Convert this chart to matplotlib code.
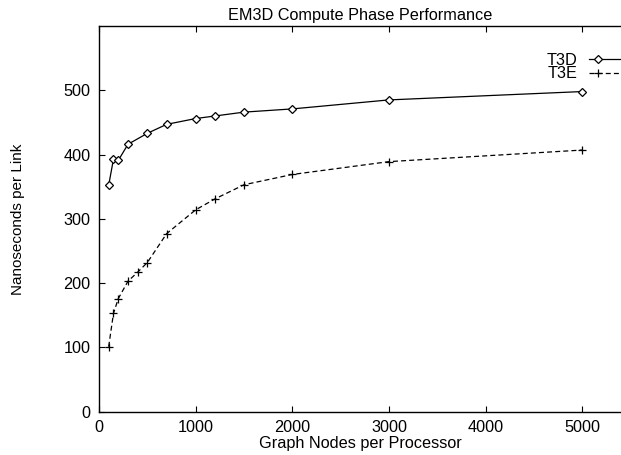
import matplotlib
matplotlib.use("Agg")
import matplotlib.pyplot as plt
from matplotlib.legend_handler import HandlerLine2D
from matplotlib.lines import Line2D

# Data
t3d_nodes = [100, 150, 200, 300, 500, 700, 1000, 1200, 1500, 2000, 3000, 5000]
t3d_ns = [352, 393, 391, 416, 433, 447, 456, 460, 466, 471, 485, 498]

t3e_nodes = [100, 150, 200, 300, 400, 500, 700, 1000, 1200, 1500, 2000, 3000, 5000]
t3e_ns = [101, 153, 176, 203, 217, 232, 277, 314, 331, 353, 369, 389, 407]

plt.rcParams['font.family'] = ['Liberation Sans', 'DejaVu Sans']
plt.rcParams['font.size'] = 11.7


# gnuplot style key: marker sits near the left end of the sample line
class KeyHandler(HandlerLine2D):
    def create_artists(self, legend, orig_handle, xdescent, ydescent,
                       width, height, fontsize, trans):
        y = (height - ydescent) / 2
        x0 = -xdescent
        line = Line2D([x0, x0 + width], [y, y])
        self.update_prop(line, orig_handle, legend)
        line.set_marker('None')
        mark = Line2D([x0 + 0.19 * width], [y])
        self.update_prop(mark, orig_handle, legend)
        mark.set_linestyle('None')
        line.set_transform(trans)
        mark.set_transform(trans)
        return [line, mark]


fig = plt.figure(figsize=(6.21, 4.55), dpi=100)
ax = fig.add_axes([0.1594, 0.0952, 0.8406, 0.8477])

l1, = ax.plot(t3d_nodes, t3d_ns, color='black', lw=0.9, marker='D', ms=4.4,
              mfc='white', mec='black', mew=0.9, label='T3D')
l2, = ax.plot(t3e_nodes, t3e_ns, color='black', lw=0.9, ls=(0, (4, 2.5)),
              marker='+', ms=5.5, mew=0.9, label='T3E')

ax.set_xlim(0, 5400)
ax.set_ylim(0, 600)
ax.set_xticks([0, 1000, 2000, 3000, 4000, 5000])
ax.set_yticks([0, 100, 200, 300, 400, 500])
ax.tick_params(direction='in', length=4, width=0.8, top=True, right=False, pad=6)
ax.spines['right'].set_visible(False)
for s in ['left', 'bottom', 'top']:
    ax.spines[s].set_linewidth(1.0)

ax.set_title('EM3D Compute Phase Performance', fontsize=11.7, pad=4)
ax.set_xlabel('Graph Nodes per Processor', labelpad=1)
ax.set_ylabel('Nanoseconds per Link', fontsize=11, labelpad=28)

leg = ax.legend(handles=[l1, l2], loc='upper right', bbox_to_anchor=(1.0447, 0.948),
                frameon=False, markerfirst=False, handlelength=3.0,
                handletextpad=0.7, labelspacing=-0.08, borderaxespad=0,
                handler_map={l1: KeyHandler(), l2: KeyHandler()})

fig.savefig('out.png', dpi=100)
